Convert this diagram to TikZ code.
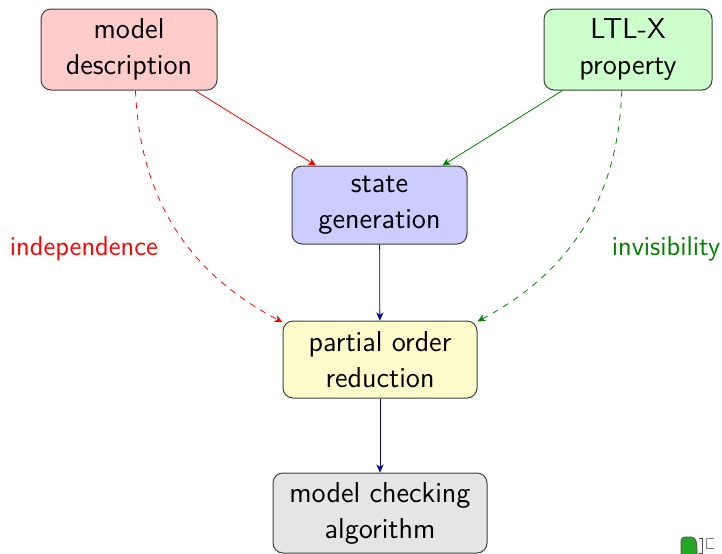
\documentclass[tikz,border=0pt]{standalone}
\usepackage{tikz}
\usetikzlibrary{arrows.meta}
\begin{document}
\begin{tikzpicture}[x=0.5pt,y=-0.5pt,
  every node/.style={font=\sffamily\fontsize{14.4}{18}\selectfont},
  box/.style={draw=black!75, line width=0.5pt, rounded corners=5pt, align=center, inner sep=2pt},
  lab/.style={inner sep=0pt, font=\sffamily\fontsize{13.6}{17}\selectfont},
  conn/.style={-{Stealth[length=4pt,width=3.6pt,inset=1.2pt]}, line width=0.4pt}]
\useasboundingbox (0,0) rectangle (722,553);
\node[box, fill=red!20, minimum width=88pt, minimum height=40.5pt] (md) at (129,49.5) {model\\description};
\node[box, fill=green!20, minimum width=84pt, minimum height=40.5pt] (ltl) at (628,49.5) {LTL-X\\property};
\node[box, fill=blue!20, minimum width=87.5pt, minimum height=39pt] (sg) at (379.5,205) {state\\generation};
\node[box, fill=yellow!20, minimum width=97pt, minimum height=38.5pt] (por) at (380,359.5) {partial order\\reduction};
\node[box, fill=black!10, minimum width=107pt, minimum height=40pt] (mc) at (380,513) {model checking\\algorithm};
\node[lab, text=red] (ind) at (84,249) {independence};
\node[lab, text=green!50!black] (inv) at (666,249) {invisibility};
\draw[conn, red] (md) -- (sg);
\draw[conn, green!50!black] (ltl) -- (sg);
\draw[conn, blue!50!black] (sg) -- (por);
\draw[conn, blue!50!black] (por) -- (mc);
\draw[conn, red, dashed] (md) to[bend right] (por);
\draw[conn, green!50!black, dashed] (ltl) to[bend left] (por);
% navigation remnant
\fill[green!60!black!85, draw=black!70, line width=0.4pt, rounded corners=2pt] (681,554) -- (681,537) -- (695,537) -- (697,545) -- (697,554);
\draw[black!70, line width=0.5pt] (699,538) -- (702,538) -- (702,553) -- (699,553);
\draw[black!50, line width=0.5pt] (714,538) -- (706,538) -- (706,548) -- (714,548);
\end{tikzpicture}
\end{document}
